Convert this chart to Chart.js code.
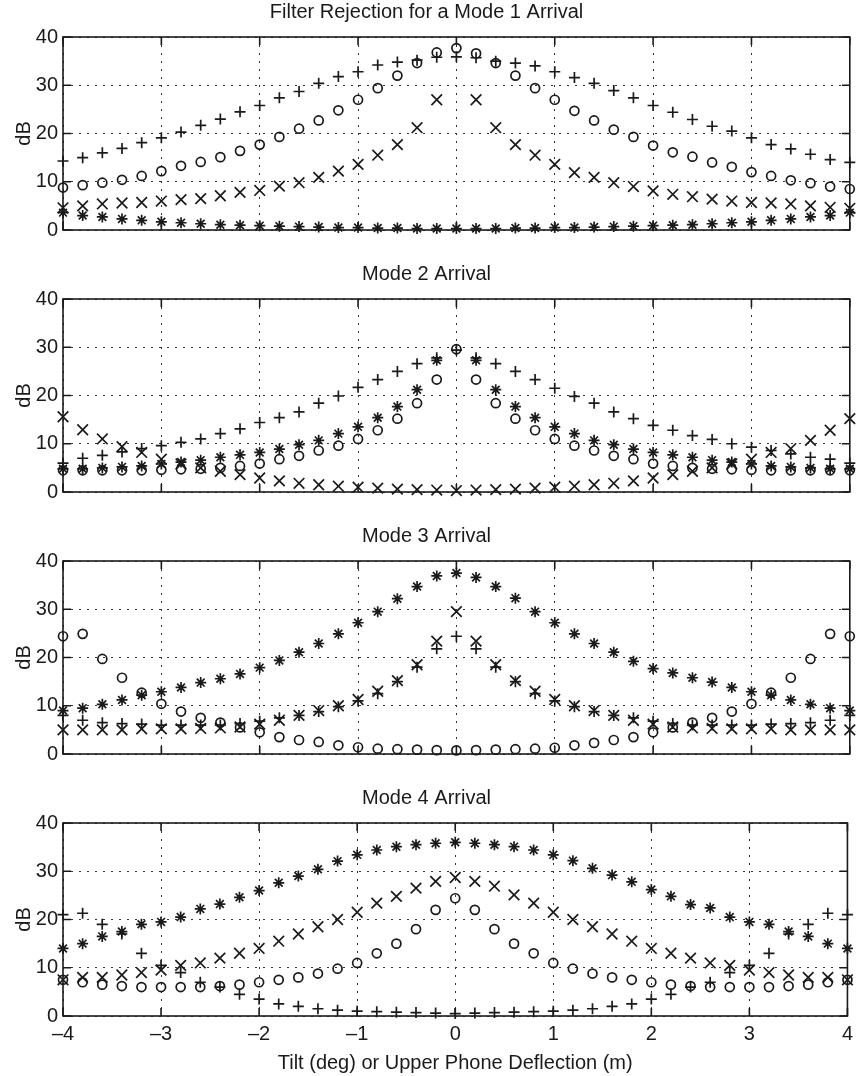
<!DOCTYPE html>
<html><head><meta charset="utf-8">
<script src="https://cdn.jsdelivr.net/npm/chart.js@4/dist/chart.umd.min.js"></script>
<style>
html,body{margin:0;padding:0;background:#fff;}
body{width:859px;height:1076px;position:relative;overflow:hidden;}
canvas{position:absolute;left:0;}
</style></head><body>
<canvas id="c1" width="859" height="250" style="top:0px"></canvas>
<canvas id="c2" width="859" height="250" style="top:262px"></canvas>
<canvas id="c3" width="859" height="250" style="top:524px"></canvas>
<canvas id="c4" width="859" height="290" style="top:786px"></canvas>
<script>
// ---- data ----
const tilt = [-4,-3.8,-3.6,-3.4,-3.2,-3,-2.8,-2.6,-2.4,-2.2,-2,-1.8,-1.6,-1.4,-1.2,-1,-0.8,-0.6,-0.4,-0.2,0,
  0.2,0.4,0.6,0.8,1,1.2,1.4,1.6,1.8,2,2.2,2.4,2.6,2.8,3,3.2,3.4,3.6,3.8,4];

const panelTitles = ["Filter Rejection for a Mode 1 Arrival","Mode 2 Arrival","Mode 3 Arrival","Mode 4 Arrival"];
const xTickLabels = ["\u20134","\u20133","\u20132","\u20131","0","1","2","3","4"];
const yTickLabels = ["0","10","20","30","40"];
const xAxisTitle = "Tilt (deg) or Upper Phone Deflection (m)";
const yAxisTitle = "dB";

// Panel 1: Mode 1 arrival
const m1Plus   = [14.3,15.0,16.0,16.9,18.1,19.1,20.3,21.7,23.0,24.5,25.8,27.4,28.7,30.4,31.8,32.8,34.2,34.8,35.2,35.8,35.9,
  35.7,35.0,34.6,34.0,32.8,31.6,30.4,28.9,27.4,25.8,24.4,22.9,21.5,20.5,19.1,17.7,16.8,15.7,14.6,14.0];
const m1Circle = [8.8,9.3,9.8,10.4,11.2,12.2,13.3,14.1,15.1,16.4,17.7,19.3,21.0,22.7,24.8,27.0,29.4,32.0,34.6,36.8,37.7,
  36.6,34.6,32.0,29.4,27.0,24.7,22.7,20.8,19.3,17.5,16.1,15.2,14.0,13.1,12.0,11.2,10.3,9.7,9.0,8.5];
const m1Cross  = [4.6,5.0,5.4,5.6,5.7,6.0,6.3,6.5,7.1,7.8,8.2,9.1,9.8,10.9,12.2,13.6,15.5,17.7,21.2,27.0,null,
  27.0,21.2,17.7,15.5,13.6,11.9,10.9,9.8,9.0,8.1,7.4,6.9,6.4,6.0,5.7,5.6,5.4,5.0,4.7,4.5];
const m1Star   = [3.6,3.0,2.7,2.3,2.0,1.7,1.5,1.3,1.1,1.0,0.9,0.8,0.7,0.6,0.5,0.5,0.4,0.4,0.3,0.3,0.3,
  0.3,0.3,0.4,0.4,0.5,0.5,0.6,0.7,0.8,0.9,1.0,1.1,1.3,1.5,1.7,2.0,2.3,2.7,3.0,3.6];

// Panel 2: Mode 2 arrival
const m2Plus   = [6.0,7.0,7.6,8.3,9.0,9.6,10.3,11.0,12.1,13.1,14.4,15.4,16.6,18.4,19.9,21.7,23.3,25.0,26.6,27.8,29.4,
  27.8,26.6,25.0,23.3,21.5,19.8,18.4,16.6,15.2,13.8,12.8,11.7,10.9,10.0,9.3,8.6,7.9,7.2,6.8,6.0];
const m2Circle = [4.5,4.5,4.5,4.5,4.5,4.6,4.7,4.8,5.0,5.4,5.9,6.8,7.5,8.6,9.6,11.0,12.8,15.2,18.4,23.3,29.6,
  23.3,18.4,15.2,12.8,11.0,9.6,8.6,7.5,6.8,5.9,5.4,5.0,4.8,4.7,4.6,4.5,4.5,4.5,4.5,4.5];
const m2Cross  = [15.6,12.9,11.0,9.4,8.2,6.8,5.8,5.0,4.3,3.6,2.9,2.3,1.8,1.5,1.2,1.0,0.8,0.6,0.5,0.4,0.3,
  0.4,0.5,0.6,0.8,1.0,1.2,1.5,1.8,2.3,2.9,3.6,4.3,5.0,5.8,6.8,8.2,9.0,10.7,12.8,15.2];
const m2Star   = [4.8,4.8,5.0,5.2,5.4,5.8,6.2,6.6,7.2,7.7,8.2,8.9,9.8,10.7,12.1,13.5,15.4,17.7,21.2,27.3,null,
  27.3,21.2,17.7,15.4,13.5,12.1,10.7,9.8,8.9,8.2,7.7,7.2,6.6,6.2,5.8,5.4,5.2,5.0,4.8,4.8];

// Panel 3: Mode 3 arrival
const m3Plus   = [8.0,7.0,6.5,6.3,6.2,6.0,6.0,6.0,6.0,6.3,6.8,7.5,8.0,8.8,9.8,11.0,12.5,15.0,18.0,21.8,24.4,
  21.8,18.0,15.0,12.5,11.0,9.8,8.8,8.0,7.5,6.8,6.3,6.0,6.0,6.0,6.0,6.2,6.3,6.5,7.0,8.0];
const m3Circle = [24.4,24.9,19.7,15.8,12.7,10.4,8.8,7.5,6.5,5.5,4.5,3.5,2.9,2.5,1.8,1.4,1.1,1.0,0.9,0.8,0.75,
  0.8,0.9,1.0,1.1,1.3,1.8,2.3,2.9,3.5,4.5,5.5,6.5,7.5,8.8,10.4,12.7,15.8,19.7,24.9,24.4];
const m3Cross  = [5.0,5.0,5.0,5.0,5.2,5.2,5.2,5.3,5.4,5.6,6.2,7.0,8.0,9.0,10.0,11.3,13.0,15.2,18.5,23.4,29.5,
  23.4,18.5,15.2,13.0,11.3,10.0,9.0,8.0,7.0,6.2,5.6,5.4,5.3,5.2,5.2,5.2,5.0,5.0,5.0,5.0];
const m3Star   = [9.0,9.5,10.3,11.2,12.2,12.9,13.8,14.8,15.6,16.6,17.9,19.4,21.1,22.9,24.9,27.2,29.5,32.2,34.7,36.9,37.5,
  36.6,34.7,32.3,29.5,27.2,24.9,22.9,21.1,19.2,17.7,16.8,15.8,14.9,13.8,12.9,12.2,11.2,10.3,9.5,9.0];

// Panel 4: Mode 4 arrival
const m4Plus   = [21.0,21.3,19.0,17.0,13.0,10.5,9.0,7.0,6.0,4.5,3.5,2.5,2.0,1.5,1.2,1.0,0.9,0.8,0.7,0.6,0.5,
  0.6,0.7,0.8,0.9,1.0,1.2,1.5,2.0,2.5,3.5,4.5,6.0,7.0,9.0,10.5,13.0,17.0,19.0,21.3,21.0];
const m4Circle = [7.5,7.0,6.5,6.2,6.0,6.0,6.0,6.0,6.2,6.5,7.0,7.5,8.0,8.8,9.8,11.0,13.0,15.0,18.0,22.0,24.4,
  22.0,18.0,15.0,13.0,11.0,9.8,8.8,8.0,7.5,7.0,6.5,6.2,6.0,6.0,6.0,6.0,6.2,6.5,7.0,7.5];
const m4Cross  = [7.5,8.0,8.0,8.5,9.0,9.5,10.5,11.0,12.0,13.0,14.0,15.5,17.0,18.5,20.0,21.5,23.4,24.8,26.5,27.9,28.7,
  27.9,26.9,25.1,23.4,21.5,20.0,18.5,17.0,15.5,14.0,13.0,12.0,11.0,10.5,9.5,9.0,8.5,8.0,8.0,7.5];
const m4Star   = [14.0,15.0,16.5,17.5,19.0,19.5,20.5,22.2,23.2,24.6,26.0,27.6,29.0,30.4,32.1,33.4,34.4,35.1,35.5,35.8,36.0,
  35.8,35.5,35.1,34.4,33.4,32.2,30.6,29.2,27.8,26.2,24.8,23.1,22.4,20.5,19.5,19.0,17.5,16.5,15.0,14.0];

const panels = [
  [m1Plus,m1Circle,m1Cross,m1Star],
  [m2Plus,m2Circle,m2Cross,m2Star],
  [m3Plus,m3Circle,m3Cross,m3Star],
  [m4Plus,m4Circle,m4Cross,m4Star]
];

// ---- styling ----
const INK = '#1a1a1a';
const FONT = "'Liberation Sans', Arial, Helvetica, sans-serif";
const TICK = 8;
const markerStyles = [
  {pointStyle:'cross', radius:5.5},
  {pointStyle:'circle', radius:4.5},
  {pointStyle:'crossRot', radius:7.5},
  {pointStyle:'star', radius:5.5}
];

const framePlugin = {
  id:'frame',
  beforeDatasetsDraw(chart){
    const {ctx, chartArea:{left,right,top,bottom}} = chart;
    const xs = chart.scales.x, ys = chart.scales.y;
    ctx.save();
    ctx.strokeStyle = INK; ctx.lineWidth = 1.6;
    ctx.strokeRect(left, top, right-left, bottom-top);
    ctx.beginPath();
    xs.ticks.forEach(t => {
      const p = xs.getPixelForValue(t.value);
      ctx.moveTo(p, bottom); ctx.lineTo(p, bottom-TICK);
      ctx.moveTo(p, top); ctx.lineTo(p, top+TICK);
    });
    ys.ticks.forEach(t => {
      const p = ys.getPixelForValue(t.value);
      ctx.moveTo(left, p); ctx.lineTo(left+TICK, p);
      ctx.moveTo(right, p); ctx.lineTo(right-TICK, p);
    });
    ctx.stroke();
    ctx.restore();
  }
};

function makeChart(id, idx){
  const isLast = idx === 3;
  const datasets = panels[idx].map((vals, s) => ({
    data: tilt.map((t, i) => ({x:t, y:vals[i]})),
    pointStyle: markerStyles[s].pointStyle,
    pointRadius: markerStyles[s].radius,
    pointBorderColor: INK,
    pointBackgroundColor: 'rgba(0,0,0,0)',
    pointBorderWidth: 1.7,
    borderColor: INK,
    showLine: false,
    clip: false
  }));
  new Chart(document.getElementById(id), {
    type:'scatter',
    data:{datasets},
    plugins:[framePlugin],
    options:{
      responsive:false,
      animation:false,
      events:[],
      layout:{padding:{left:0,right:6,top:0,bottom:0}},
      plugins:{
        legend:{display:false},
        tooltip:{enabled:false},
        title:{display:true, text:panelTitles[idx], color:INK,
          font:{family:FONT,size:20,weight:'normal',lineHeight:1.2},
          padding:{top:0,bottom:13}}
      },
      scales:{
        x:{
          type:'linear', min:-4, max:4,
          ticks:{display:isLast, stepSize:1, color:INK, padding:6,
            font:{family:FONT,size:20},
            callback:(v,i)=>xTickLabels[i]},
          grid:{display:true, color:'#333', lineWidth:1, drawTicks:false},
          border:{display:false, dash:[2,6]},
          title:{display:isLast, text:xAxisTitle, color:INK,
            font:{family:FONT,size:20}, padding:{top:0,bottom:1}},
          afterFit:(s)=>{ s.height = isLast ? 60 : 20; }
        },
        y:{
          type:'linear', min:0, max:40,
          ticks:{stepSize:10, color:INK, padding:5,
            font:{family:FONT,size:20},
            callback:(v)=>yTickLabels[v/10]},
          grid:{display:true, color:'#333', lineWidth:1, drawTicks:false},
          border:{display:false, dash:[2,6]},
          title:{display:true, text:yAxisTitle, color:INK,
            font:{family:FONT,size:20}, padding:{top:12,bottom:0}},
          afterFit:(s)=>{ s.width = 63; }
        }
      }
    }
  });
}
makeChart('c1',0); makeChart('c2',1); makeChart('c3',2); makeChart('c4',3);
</script>
</body></html>
